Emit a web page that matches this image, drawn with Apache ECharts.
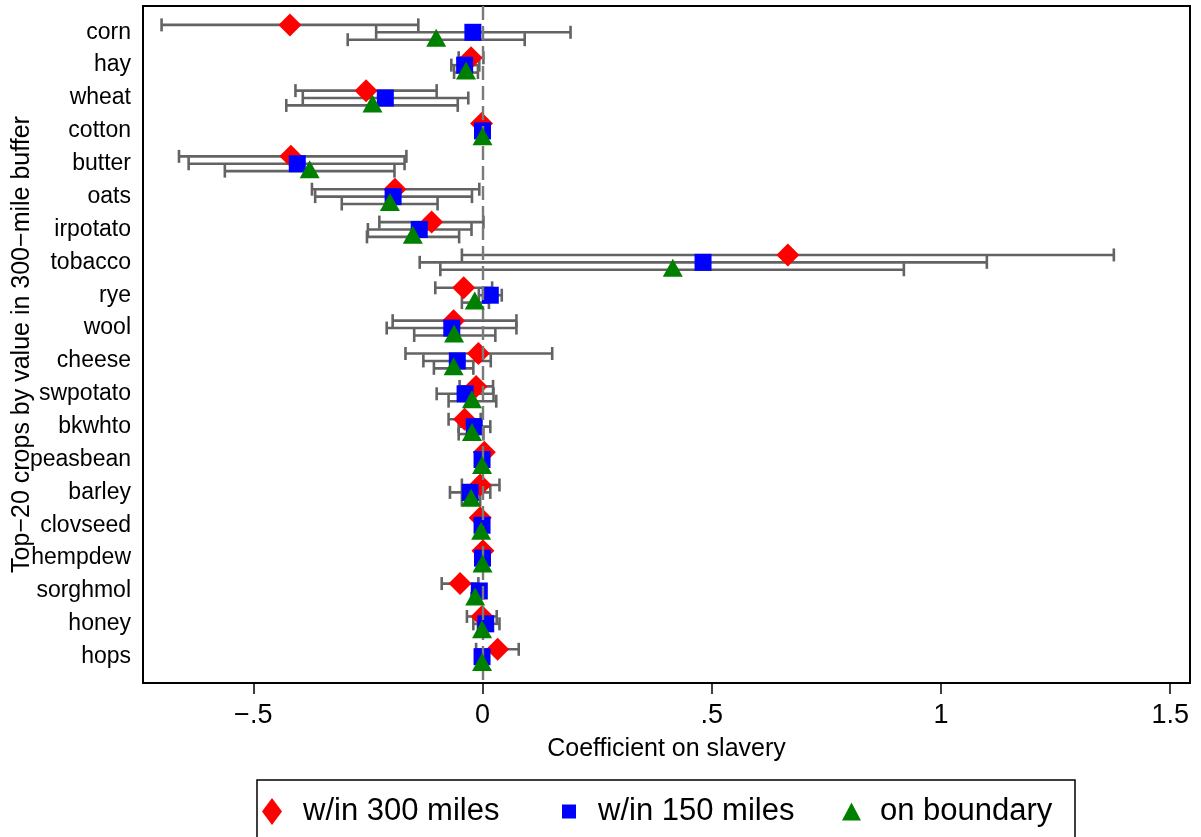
<!DOCTYPE html>
<html>
<head>
<meta charset="utf-8">
<title>Coefficient on slavery by crop</title>
<script src="https://cdn.jsdelivr.net/npm/echarts@6/dist/echarts.min.js"></script>
<style>
  html, body { margin: 0; padding: 0; background: #ffffff; }
  #chart { width: 1201px; height: 837px; }
</style>
</head>
<body>
<div id="chart"></div>
<script>
// Top-20 crops, top to bottom
const crops = ['corn', 'hay', 'wheat', 'cotton', 'butter', 'oats', 'irpotato', 'tobacco', 'rye', 'wool',
  'cheese', 'swpotato', 'bkwhto', 'peasbean', 'barley', 'clovseed', 'hempdew', 'sorghmol', 'honey', 'hops'];

// Point estimates and confidence bounds, w/in 300 miles
const est300 = [-0.420, -0.025, -0.254, -0.002, -0.418, -0.191, -0.111, 0.666, -0.041, -0.063,
  -0.009, -0.014, -0.039, 0.004, -0.005, -0.005, 0.001, -0.049, -0.001, 0.033];
const lo300 = [-0.700, -0.052, -0.408, -0.006, -0.662, -0.372, -0.225, -0.045, -0.103, -0.196,
  -0.168, -0.050, -0.074, -0.002, -0.045, -0.010, -0.003, -0.089, -0.034, -0.014];
const hi300 = [-0.140, 0.002, -0.100, 0.002, -0.166, -0.007, 0.002, 1.377, 0.021, 0.074,
  0.152, 0.023, -0.004, 0.010, 0.037, 0.000, 0.005, -0.009, 0.031, 0.079];

// w/in 150 miles
const est150 = [-0.021, -0.039, -0.212, 0.000, -0.404, -0.195, -0.138, 0.481, 0.017, -0.067,
  -0.055, -0.038, -0.018, -0.001, -0.027, -0.001, 0.000, -0.007, 0.007, -0.001];
const lo150 = [-0.232, -0.068, -0.392, -0.004, -0.641, -0.365, -0.250, -0.137, -0.008, -0.209,
  -0.129, -0.100, -0.052, -0.005, -0.071, -0.004, -0.003, -0.013, -0.020, -0.004];
const hi150 = [0.192, -0.007, -0.031, 0.004, -0.170, -0.023, -0.024, 1.100, 0.042, 0.074,
  0.018, 0.024, 0.017, 0.003, 0.017, 0.002, 0.003, -0.001, 0.037, 0.002];

// on boundary
const estB = [-0.101, -0.036, -0.240, 0.000, -0.377, -0.202, -0.152, 0.415, -0.017, -0.062,
  -0.063, -0.023, -0.023, -0.001, -0.025, -0.003, 0.000, -0.016, -0.001, -0.001];
const loB = [-0.294, -0.062, -0.428, -0.003, -0.562, -0.307, -0.252, -0.092, -0.045, -0.149,
  -0.106, -0.074, -0.052, -0.004, -0.045, -0.006, -0.002, -0.024, -0.010, -0.004];
const hiB = [0.092, -0.010, -0.054, 0.003, -0.192, -0.098, -0.051, 0.919, 0.014, 0.028,
  -0.020, 0.030, 0.002, 0.002, -0.005, 0.000, 0.002, -0.008, 0.008, 0.002];

const xTicks = [-0.5, 0, 0.5, 1, 1.5];
const xTickText = ['\u2212.5', '0', '.5', '1', '1.5'];

const names = ['w/in 300 miles', 'w/in 150 miles', 'on boundary'];
const colors = ['#ff0000', '#0000ff', '#008000'];
const shift = [-0.225, 0, 0.225];   // vertical stagger within a row
const FONT = '"Liberation Sans", Arial, Helvetica, sans-serif';
const BAR = '#636363';

const groups = [[est300, lo300, hi300], [est150, lo150, hi150], [estB, loB, hiB]];

function renderInterval(params, api) {
  const a = api.coord([api.value(0), api.value(2)]);
  const b = api.coord([api.value(1), api.value(2)]);
  const h = 6.5;
  const st = { stroke: BAR, lineWidth: 2.6 };
  return {
    type: 'group',
    children: [
      { type: 'line', shape: { x1: a[0], y1: a[1], x2: b[0], y2: b[1] }, style: st },
      { type: 'line', shape: { x1: a[0], y1: a[1] - h, x2: a[0], y2: a[1] + h }, style: st },
      { type: 'line', shape: { x1: b[0], y1: b[1] - h, x2: b[0], y2: b[1] + h }, style: st }
    ]
  };
}

const series = [];
groups.forEach((g, k) => {
  series.push({
    type: 'custom',
    name: names[k] + ' CI',
    renderItem: renderInterval,
    data: g[1].map((lo, i) => [lo, g[2][i], i + shift[k]]),
    z: 2,
    silent: true,
    markLine: k === 0 ? {
      silent: true,
      symbol: 'none',
      label: { show: false },
      lineStyle: { color: '#7a7a7a', width: 2.4, type: [14, 6] },
      data: [{ xAxis: 0 }]
    } : undefined
  });
});

const symbols = ['diamond', 'rect', 'triangle'];
const sizes = [[23, 23], [17, 17], [20, 18]];
const offsets = [[0, 0], [0, 0], [0, -2]];
groups.forEach((g, k) => {
  series.push({
    type: 'scatter',
    name: names[k],
    symbol: symbols[k],
    symbolSize: sizes[k],
    symbolOffset: offsets[k],
    itemStyle: { color: colors[k], opacity: 1 },
    data: g[0].map((v, i) => [v, i + shift[k]]),
    z: 3 + k
  });
});

const legendLeft = [262, 562, 842];
const legendIcon = [[20, 27], [14, 14], [19, 18]];
const legendPad = [16, 17, 14];
const legends = names.map((n, k) => ({
  data: [n],
  left: legendLeft[k],
  top: 796,
  orient: 'horizontal',
  itemWidth: legendIcon[k][0],
  itemHeight: legendIcon[k][1],
  symbolKeepAspect: false,
  selectedMode: false,
  padding: 0,
  textStyle: { fontFamily: FONT, fontSize: 31, color: '#000', padding: [0, 0, 0, legendPad[k]] }
}));

const chart = echarts.init(document.getElementById('chart'), null, { renderer: 'canvas' });
chart.setOption({
  backgroundColor: '#ffffff',
  animation: false,
  grid: {
    left: 143, right: 11, top: 6, bottom: 154,
    containLabel: false,
    outerBoundsMode: 'none',
    show: true, borderColor: '#000', borderWidth: 2, backgroundColor: 'transparent'
  },
  xAxis: {
    type: 'value',
    position: 'bottom',
    min: -0.7405,
    max: 1.5431,
    name: 'Coefficient on slavery',
    nameLocation: 'middle',
    nameGap: 54,
    nameMoveOverlap: false,
    nameTextStyle: { fontFamily: FONT, fontSize: 25, color: '#000' },
    axisLine: { show: false, onZero: false },
    splitLine: { show: false },
    axisTick: { show: true, length: 11, customValues: xTicks, lineStyle: { color: '#000', width: 1.5 } },
    axisLabel: {
      customValues: xTicks,
      margin: 19,
      fontFamily: FONT, fontSize: 27, color: '#000',
      formatter: v => xTickText[xTicks.indexOf(v)]
    }
  },
  yAxis: {
    type: 'value',
    position: 'left',
    inverse: true,
    min: -0.8,
    max: 19.8,
    name: 'Top\u221220 crops by value in 300\u2212mile buffer',
    nameLocation: 'middle',
    nameGap: 108,
    nameMoveOverlap: false,
    nameTextStyle: { fontFamily: FONT, fontSize: 25, color: '#000' },
    axisLine: { show: false, onZero: false },
    splitLine: { show: false },
    axisTick: { show: false },
    axisLabel: {
      customValues: crops.map((c, i) => i),
      margin: 12,
      fontFamily: FONT, fontSize: 23, color: '#000',
      formatter: v => crops[Math.round(v)]
    }
  },
  legend: legends,
  graphic: [{
    type: 'rect',
    shape: { x: 257, y: 780, width: 818, height: 70 },
    style: { fill: 'none', stroke: '#000', lineWidth: 1.5 },
    silent: true
  }],
  series: series
});
</script>
</body>
</html>
